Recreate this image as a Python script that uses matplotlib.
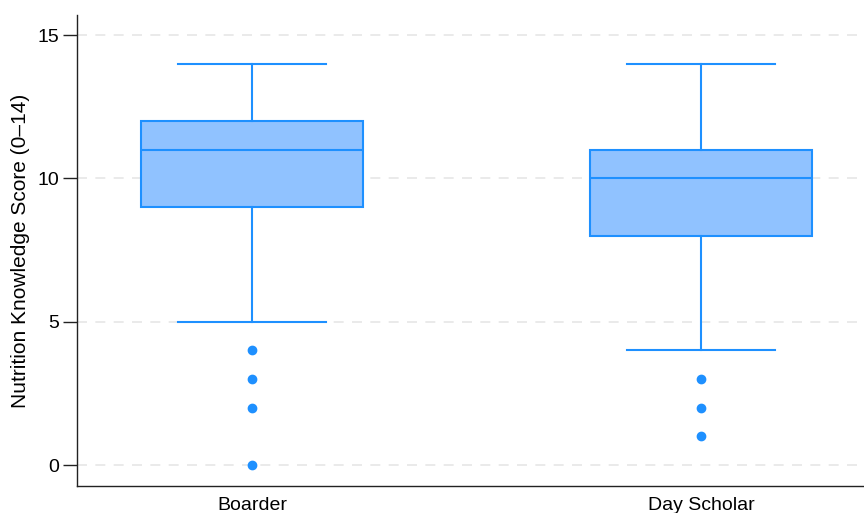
import matplotlib
matplotlib.use("Agg")
import matplotlib.pyplot as plt

plt.rcParams['font.family'] = ['Liberation Sans', 'DejaVu Sans']

groups = ['Boarder', 'Day Scholar']
q1 = [9, 8]
median = [11, 10]
q3 = [12, 11]
whisker_low = [5, 4]
whisker_high = [14, 14]
outliers = [[4, 3, 2, 0], [3, 2, 1]]

line_color = '#1E90FF'
fill_color = '#90C2FF'

stats = []
for i, name in enumerate(groups):
    stats.append({
        'label': name,
        'q1': q1[i], 'med': median[i], 'q3': q3[i],
        'whislo': whisker_low[i], 'whishi': whisker_high[i],
        'fliers': outliers[i],
    })

fig = plt.figure(figsize=(8.64, 5.13), dpi=100)
ax = fig.add_axes([77 / 864, 27 / 513, 787 / 864, 471 / 513])

ax.bxp(stats, positions=[0, 1], widths=0.494, patch_artist=True,
       boxprops=dict(facecolor=fill_color, edgecolor=line_color, linewidth=1.5),
       medianprops=dict(color=line_color, linewidth=1.5),
       whiskerprops=dict(color=line_color, linewidth=1.5),
       capprops=dict(color=line_color, linewidth=1.5),
       capwidths=0.33,
       flierprops=dict(marker='o', markerfacecolor=line_color,
                       markeredgecolor=line_color, markersize=6))

ax.set_xlim(-0.39, 1.363)
ax.set_ylim(-0.73, 15.7)
ax.set_yticks([0, 5, 10, 15])
ax.yaxis.grid(True, linestyle=(0, (6, 5)), color='#E6E6E6', linewidth=1.2)
ax.set_axisbelow(True)

ax.set_ylabel('Nutrition Knowledge Score (0–14)', fontsize=15, labelpad=5)
ax.tick_params(axis='y', labelsize=14, length=10, width=1, pad=3, color='#222222')
ax.tick_params(axis='x', labelsize=14, length=0, pad=8)

for side in ['top', 'right']:
    ax.spines[side].set_visible(False)
for side in ['left', 'bottom']:
    ax.spines[side].set_color('#222222')
    ax.spines[side].set_linewidth(1)

fig.savefig('out.png', dpi=100)
